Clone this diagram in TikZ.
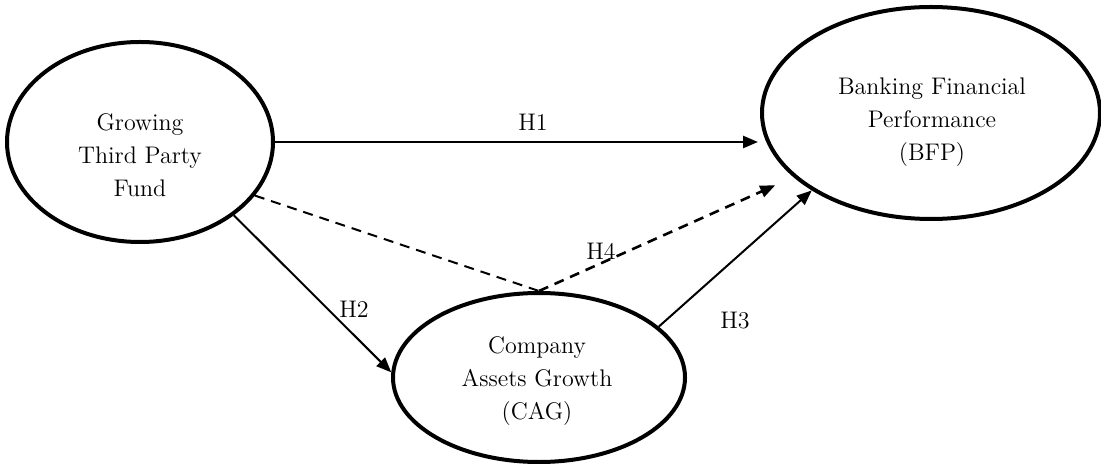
\documentclass[tikz,border=0pt]{standalone}
\usepackage{tikz}
\usetikzlibrary{shapes,arrows.meta}
\tikzstyle{var}=[ellipse,draw=black,line width=2pt,inner sep=0pt]
\tikzstyle{txt}=[align=center,inner sep=0pt,font=\fontsize{12}{16.5}\selectfont]
\tikzstyle{hyp}=[line width=1pt,-{Triangle[length=7.5pt,width=6pt]}]
\tikzstyle{hdash}=[dash pattern=on 5pt off 3.5pt]

\begin{document}
\begin{tikzpicture}[x=0.5pt,y=-0.5pt]
    \useasboundingbox (0,0) rectangle (1101,464);
    \node [style=var,minimum width=133pt,minimum height=100pt] (gtpf) at (140,142) {};
    \node [style=var,minimum width=169pt,minimum height=106pt] (bfp) at (931,113) {};
    \node [style=var,minimum width=146pt,minimum height=84.5pt] (cag) at (539,377.5) {};
    \node [style=txt] (gtpf-t) at (140,155) {Growing\\Third Party\\Fund};
    \node [style=txt] (bfp-t) at (932,122) {Banking Financial\\Performance\\(BFP)};
    \node [style=txt] (cag-t) at (537,381) {Company\\Assets Growth\\(CAG)};
    \node [style=txt] (h1) at (533,122) {H1};
    \node [style=txt] (h2) at (354,309) {H2};
    \node [style=txt] (h3) at (735,321) {H3};
    \node [style=txt] (h4) at (601,251) {H4};
    \draw [style=hyp,line width=1.3pt,shorten >=1pt] (gtpf.east) to (gtpf.east -| bfp.west);
    \draw [style=hyp] (gtpf.-38) to (cag.178);
    \draw [style=hyp] (cag.23) to (bfp.213);
    \draw [style=hdash,line width=1pt] (gtpf.-25) to (cag.north);
    \draw [style=hyp,style=hdash,line width=1.3pt,shorten >=10pt] (cag.north) to (bfp.205);
  \end{tikzpicture}
\end{document}
